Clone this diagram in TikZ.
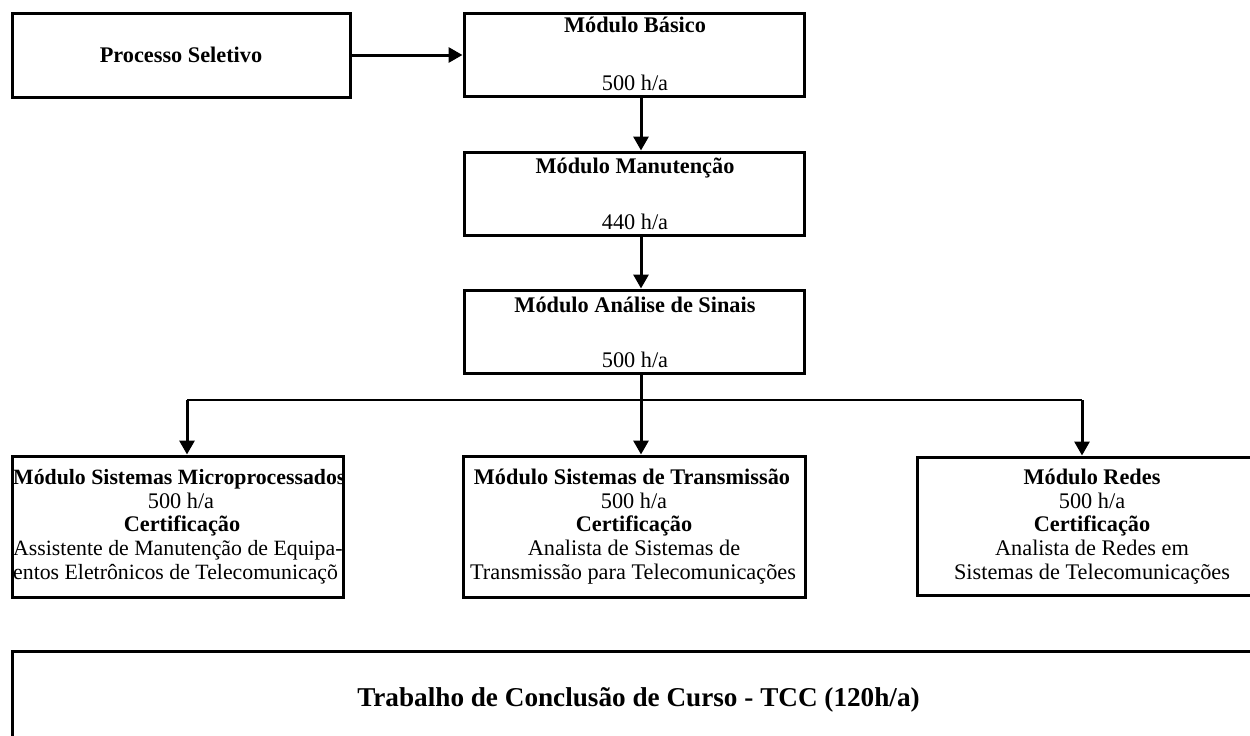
\documentclass[tikz,border=0pt]{standalone}
\usepackage{fontspec}
\setmainfont{Liberation Serif}
\usetikzlibrary{arrows.meta}
\newcommand{\fsz}{\fontsize{22.3}{24.7}\selectfont}
\newcommand{\fszs}{\fontsize{21.8}{24.7}\selectfont}
\newcommand{\fszbig}{\fontsize{27.2}{30}\selectfont}
\begin{document}
\begin{tikzpicture}[x=1pt,y=-1pt,
  box/.style={draw, line width=3pt, inner sep=0pt},
  txt/.style={font=\fsz, inner sep=0pt, anchor=base},
  txtb/.style={font=\fsz\bfseries, inner sep=0pt, anchor=base},
  arr/.style={line width=3pt, -{Triangle[length=14pt,width=15pt]}},
  branch/.style={line width=1.4pt}]
\clip (0,0) rectangle (1250,736);
\fill[white] (0,0) rectangle (1250,736);
% top row
\node[box, minimum width=338pt, minimum height=84pt] (ps) at (181,55) {};
\node[txtb] (pst) at (181,62) {Processo Seletivo};
\node[box, minimum width=340pt, minimum height=83pt] (mb) at (634,54.5) {};
\node[txtb] (mbt) at (635,32) {Módulo Básico};
\node[txt] (mbh) at (635,90) {500 h/a};
\node[box, minimum width=340pt, minimum height=83pt] (mm) at (634,193.5) {};
\node[txtb] (mmt) at (635,173) {Módulo Manutenção};
\node[txt] (mmh) at (635,229) {440 h/a};
\node[box, minimum width=340pt, minimum height=83pt] (ma) at (634,331.5) {};
\node[txtb] (mat) at (635,312) {Módulo Análise de Sinais};
\node[txt] (mah) at (635,367) {500 h/a};
% bottom row
\node[box, minimum width=331pt, minimum height=141pt] (bl) at (177.5,526.5) {};
\begin{scope}
\clip (12,456) rectangle (343,597);
\node[txtb, font=\fszs\bfseries, anchor=base west] (bl1) at (13,484) {Módulo Sistemas Microprocessados};
\node[txt] (bl2) at (181,508) {500 h/a};
\node[txtb] (bl3) at (182,531) {Certificação};
\node[txt, font=\fszs, anchor=base west] (bl4) at (13,555) {Assistente de Manutenção de Equipa-};
\node[txt, font=\fszs, anchor=base west] (bl5) at (13,579) {entos Eletrônicos de Telecomunicaçõ};
\end{scope}
\node[box, minimum width=342pt, minimum height=141pt] (bm) at (634,526.5) {};
\node[txtb] (bm1) at (632,484) {Módulo Sistemas de Transmissão};
\node[txt] (bm2) at (634,508) {500 h/a};
\node[txtb] (bm3) at (634,531) {Certificação};
\node[txt] (bm4) at (634,555) {Analista de Sistemas de};
\node[txt] (bm5) at (633,579) {Transmissão para Telecomunicações};
\node[box, minimum width=350pt, minimum height=138pt] (br) at (1092,526) {};
\node[txtb] (br1) at (1092,484) {Módulo Redes};
\node[txt] (br2) at (1092,508) {500 h/a};
\node[txtb] (br3) at (1092,531) {Certificação};
\node[txt] (br4) at (1092,555) {Analista de Redes em};
\node[txt] (br5) at (1092,579) {Sistemas de Telecomunicações};
% TCC
\node[box, minimum width=1253pt, minimum height=92pt] (tcc) at (638.5,697) {};
\node[font=\fszbig\bfseries, inner sep=0pt, anchor=base] (tcct) at (638.5,706) {Trabalho de Conclusão de Curso - TCC (120h/a)};
% connectors
\coordinate (ax) at (641,0);
\coordinate (jl) at (187,400);
\coordinate (jr) at (1082,400);
\draw[arr] (ps.east) -- (ps.east -| mb.west);
\draw[arr] (ax |- mb.south) -- (ax |- mm.north);
\draw[arr] (ax |- mm.south) -- (ax |- ma.north);
\draw[branch] (jl) -- (jr);
\draw[arr] (ax |- ma.south) -- (ax |- bm.north);
\draw[arr] (jl) -- (jl |- bl.north);
\draw[arr] (jr) -- (jr |- br.north);
\end{tikzpicture}
\end{document}
